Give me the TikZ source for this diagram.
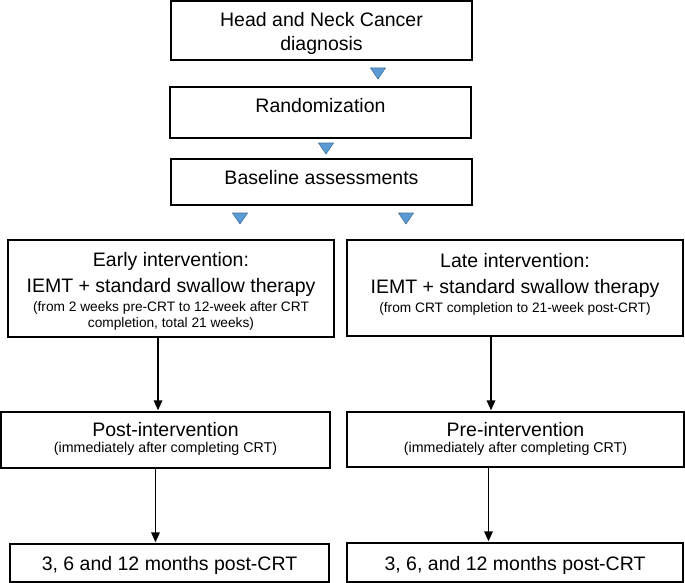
\documentclass[tikz,border=0pt]{standalone}
\usepackage{fontspec}
\setmainfont{Liberation Sans}
\usepackage{xcolor}
\usetikzlibrary{arrows.meta}

\definecolor{triblue}{RGB}{91,155,213}
\definecolor{triedge}{RGB}{65,113,156}
\newcommand\mainsize{\fontsize{19.5}{24}\selectfont}
\newcommand\notesize{\fontsize{13.7}{16}\selectfont}
\newcommand\narrowsize{\fontsize{14.2}{16}\selectfont}

\begin{document}
\begin{tikzpicture}[x=1pt, y=-1pt,
  box/.style={draw, line width=1.3pt, inner sep=0pt, align=center, font=\mainsize},
  flow/.style={line width=1.7pt, -{Triangle[width=8.5pt,length=10pt]}, shorten >=1pt},
  marker/.style={fill=triblue, draw=triedge, line width=0.6pt, line join=round}]
\useasboundingbox (0,0) rectangle (685,583);
% shared part
\node[box, minimum width=301pt, minimum height=59pt] (diag) at (321.5,30.5)
  {\rule{0pt}{20pt}Head and Neck Cancer\\diagnosis};
\node[box, minimum width=301pt, minimum height=51pt] (rand) at (320.5,112.5)
  {\rule[-15pt]{0pt}{30pt}Randomization};
\node[box, minimum width=301pt, minimum height=46pt] (base) at (321.5,182)
  {\rule[-11pt]{0pt}{26pt}Baseline assessments};
% two arms
\node[box, minimum width=326pt, minimum height=97pt] (early) at (171,288.5)
  {\rule{0pt}{22pt}Early intervention:\\[2pt]
   IEMT + standard swallow therapy\\[-5pt]
   {\notesize\begin{tabular}[t]{@{}c@{}}(from 2 weeks pre-CRT to 12-week after CRT\\completion, total 21 weeks)\end{tabular}}};
\node[box, minimum width=336pt, minimum height=96pt] (late) at (515,288)
  {\rule{0pt}{22pt}Late intervention:\\[2pt]
   IEMT + standard swallow therapy\\[-5pt]
   {\notesize\begin{tabular}[t]{@{}c@{}}(from CRT completion to 21-week post-CRT)\rule[-19pt]{0pt}{0pt}\end{tabular}}};
\node[box, minimum width=329pt, minimum height=56pt] (post) at (165.5,440)
  {Post-intervention\\[-8pt]
   {\narrowsize\begin{tabular}[t]{@{}c@{}}(immediately after completing CRT)\end{tabular}}};
\node[box, minimum width=337pt, minimum height=55pt] (pre) at (515.5,439.5)
  {Pre-intervention\\[-8pt]
   {\narrowsize\begin{tabular}[t]{@{}c@{}}(immediately after completing CRT)\end{tabular}}};
\node[box, minimum width=319pt, minimum height=38pt] (fuearly) at (169.5,563)
  {\rule{0pt}{20pt}3, 6 and 12 months post-CRT};
\node[box, minimum width=336pt, minimum height=39pt] (fulate) at (515,562.5)
  {\rule{0pt}{20pt}3, 6, and 12 months post-CRT};
% blue markers
\foreach \tx/\ty in {378/73.5, 326/148.5, 240/218.5, 406/218.5}
  \draw[marker, shift={(\tx,\ty)}] (-7.5,-5.5) -- (7.5,-5.5) -- (0,5.5) -- cycle;
% arrows
\draw[flow] ([xshift=-13pt]early.south) -- ([xshift=-13pt]early.south |- post.north);
\draw[flow] ([xshift=-10pt]post.south) -- ([xshift=-10pt]post.south |- fuearly.north);
\draw[flow] ([xshift=-24pt]late.south) -- ([xshift=-24pt]late.south |- pre.north);
\draw[flow] ([xshift=-27pt]pre.south) -- ([xshift=-27pt]pre.south |- fulate.north);
\end{tikzpicture}
\end{document}
